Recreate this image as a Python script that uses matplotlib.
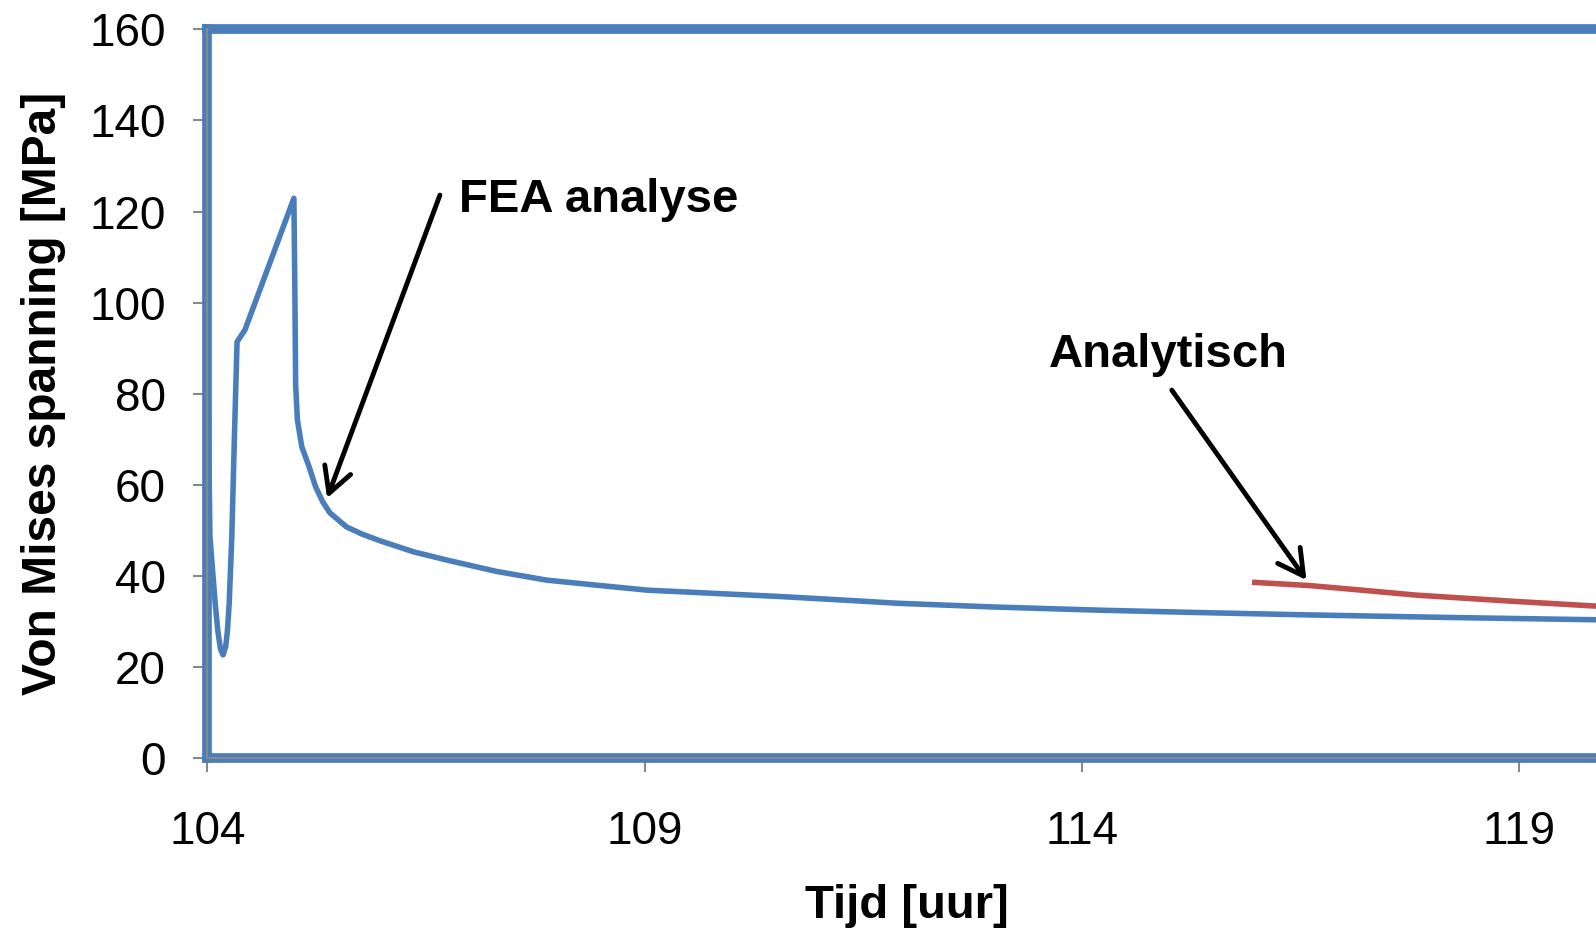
import matplotlib.pyplot as plt

plt.rcParams['font.family'] = ['Liberation Sans', 'DejaVu Sans']

# FEA resultaat (tijd in uur, spanning in MPa)
fea_t = [104.0, 104.015, 104.03, 104.06, 104.09, 104.12, 104.15, 104.18, 104.21,
         104.23, 104.25, 104.28, 104.31, 104.34, 104.43, 104.99, 105.0, 105.01,
         105.03, 105.08, 105.16, 105.24, 105.32, 105.4, 105.59, 105.77,
         105.98, 106.36, 106.74, 107.31, 107.88, 108.5, 109.03, 109.79, 110.55,
         111.2, 111.92, 113.0, 114.21, 115.3, 116.5, 118.2, 119.88, 120.0]
fea_s = [100.0, 70.0, 48.6, 41.3, 34.0, 28.0, 24.0, 22.7, 24.5,
         28.0, 34.0, 48.6, 70.6, 91.4, 94.0, 122.9, 105.0, 82.0,
         74.3, 68.4, 64.2, 59.5, 56.3, 53.9, 50.8, 49.2,
         47.7, 45.3, 43.5, 41.0, 39.1, 37.9, 36.9, 36.2, 35.5,
         34.8, 34.0, 33.2, 32.5, 32.0, 31.5, 30.9, 30.4, 30.4]

# analytische oplossing
ana_t = [115.98, 116.61, 117.26, 117.83, 118.98, 119.88, 120.0]
ana_s = [38.6, 37.9, 36.8, 35.8, 34.4, 33.4, 33.3]

xticks = [104, 109, 114, 119]
yticks = list(range(0, 161, 20))

blue = '#4a7ebb'
red = '#c0504d'
grey = '#888888'

fig = plt.figure(figsize=(15.96, 9.32), dpi=100)
ax = fig.add_axes([0.1299, 0.1864, 0.8766, 0.7822])

ax.plot(fea_t, fea_s, color=blue, lw=4, solid_joinstyle='round', zorder=3)
ax.plot(ana_t, ana_s, color=red, lw=4, zorder=3)

ax.set_xlim(104, 120)
ax.set_ylim(0, 160)
ax.set_xticks(xticks)
ax.set_yticks(yticks)

for side in ['left', 'bottom', 'top']:
    ax.spines[side].set_color(blue)
    ax.spines[side].set_linewidth(7)
ax.spines['right'].set_visible(False)

# grijze aslijnen over de blauwe rand
ax.axhline(0, color=grey, lw=1.5, zorder=4, clip_on=False)
ax.axvline(104, color=grey, lw=1.5, zorder=4, clip_on=False)

ax.tick_params(axis='both', direction='out', length=10, width=1.5, color=grey,
               labelsize=33)
ax.tick_params(axis='y', pad=20)
ax.tick_params(axis='x', pad=27)

ax.set_xlabel('Tijd [uur]', fontsize=34, fontweight='bold', labelpad=22)
ax.set_ylabel('Von Mises spanning [MPa]', fontsize=34.5, fontweight='bold')
ax.yaxis.set_label_coords(-0.101, 0.5)

arrow = dict(arrowstyle='->, head_length=0.55, head_width=0.3',
             color='black', lw=3.5, mutation_scale=33, shrinkA=0, shrinkB=0)

ax.text(106.88, 120.0, 'FEA analyse', fontsize=34, fontweight='bold',
        ha='left', va='baseline')
ax.annotate('', xy=(105.37, 57.1), xytext=(106.66, 123.6), arrowprops=arrow)

ax.text(113.62, 85.95, 'Analytisch', fontsize=34, fontweight='bold',
        ha='left', va='baseline')
ax.annotate('', xy=(116.57, 39.1), xytext=(115.03, 80.8), arrowprops=arrow)

fig.savefig('out.png', dpi=100)
plt.close(fig)
